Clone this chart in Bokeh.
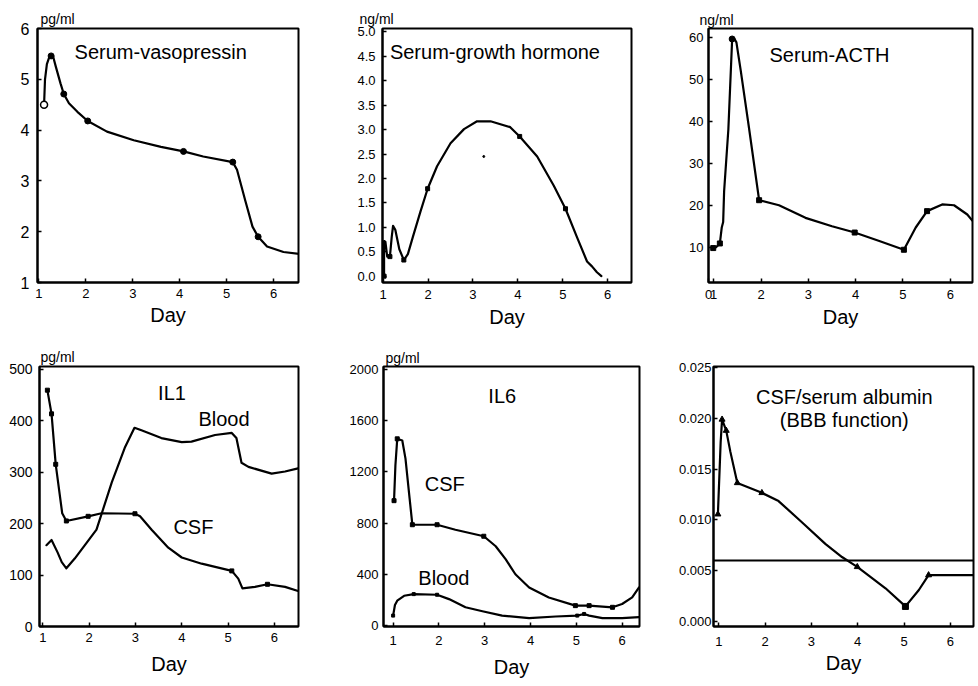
from bokeh.plotting import figure
from bokeh.layouts import column, row
from bokeh.models import Range1d, FixedTicker, Label, Span, PrintfTickFormatter, Title
from bokeh.embed import file_html
from bokeh.resources import INLINE

FONT = "Liberation Sans"

# ---------------- data ----------------
days_ticks = [1, 2, 3, 4, 5, 6]

# Serum vasopressin (pg/ml)
vaso_day = [1.11, 1.13, 1.17, 1.23, 1.30, 1.36, 1.46, 1.53, 1.64, 1.82, 2.04, 2.45, 3.02, 3.60,
            4.08, 4.50, 5.13, 5.22, 5.40, 5.55, 5.67, 5.86, 6.21, 6.57]
vaso_val = [4.50, 5.00, 5.30, 5.46, 5.46, 5.25, 4.92, 4.71, 4.53, 4.36, 4.18, 3.97, 3.80, 3.67,
            3.58, 3.48, 3.37, 3.22, 2.60, 2.10, 1.90, 1.71, 1.60, 1.56]
vaso_open_day = [1.11]
vaso_open_val = [4.50]
vaso_pt_day = [1.26, 1.53, 2.04, 4.08, 5.13, 5.67]
vaso_pt_val = [5.46, 4.71, 4.18, 3.58, 3.37, 1.90]

# Serum growth hormone (ng/ml)
gh_day = [1.02, 1.02, 1.05, 1.09, 1.15, 1.19, 1.22, 1.27, 1.36, 1.46, 1.55, 1.66, 1.83, 1.99,
          2.20, 2.50, 2.80, 3.09, 3.39, 3.83, 4.04, 4.43, 4.80, 5.06, 5.32, 5.54, 5.65, 5.76, 5.86]
gh_val = [0.00, 0.72, 0.70, 0.40, 0.40, 0.80, 1.03, 0.95, 0.55, 0.33, 0.45, 0.80, 1.32, 1.79,
          2.25, 2.72, 3.01, 3.17, 3.17, 3.05, 2.86, 2.45, 1.85, 1.38, 0.79, 0.30, 0.20, 0.08, 0.00]
gh_pt_day = [1.02, 1.15, 1.46, 1.99, 4.04, 5.06]
gh_pt_val = [0.00, 0.40, 0.33, 1.79, 2.86, 1.38]
gh_speck_day = [3.24]
gh_speck_val = [2.45]

# Serum ACTH (ng/ml)
acth_day = [0.99, 1.05, 1.13, 1.17, 1.20, 1.22, 1.31, 1.39, 1.44, 1.48, 1.57, 1.75, 1.96, 2.38,
            2.94, 3.50, 3.98, 4.50, 5.02, 5.27, 5.51, 5.83, 6.08, 6.36, 6.47]
acth_val = [9.8, 10.0, 10.9, 14.7, 16.0, 23.3, 38.1, 59.6, 59.6, 58.8, 52.2, 38.1, 21.2, 20.0,
            17.0, 15.0, 13.5, 11.5, 9.4, 14.7, 18.6, 20.2, 20.0, 17.8, 16.3]
acth_pt_day = [0.99, 1.13, 1.96, 3.98, 5.02, 5.51]
acth_pt_val = [9.8, 10.9, 21.2, 13.5, 9.4, 18.6]
acth_peak_day = [1.39]
acth_peak_val = [59.6]

# IL1 (pg/ml)
il1_csf_day = [1.10, 1.19, 1.28, 1.42, 1.51, 1.98, 2.27, 2.99, 3.10, 3.35, 3.71, 4.00, 4.43,
               5.08, 5.22, 5.31, 5.58, 5.85, 6.23, 6.51]
il1_csf_val = [459, 413, 315, 220, 205, 214, 220, 219, 214, 188, 153, 134, 122,
               108, 93, 74, 77, 82, 77, 69]
il1_csf_pt_day = [1.10, 1.19, 1.28, 1.51, 1.98, 2.99, 5.08, 5.85]
il1_csf_pt_val = [459, 413, 315, 205, 214, 219, 108, 82]
il1_blood_day = [1.08, 1.19, 1.32, 1.41, 1.51, 1.69, 1.95, 2.16, 2.49, 2.77, 2.98, 3.13, 3.56,
                 4.00, 4.21, 4.72, 5.08, 5.18, 5.29, 5.44, 5.94, 6.23, 6.51]
il1_blood_val = [158, 168, 144, 125, 113, 132, 163, 188, 280, 347, 386, 381, 366,
                 358, 359, 372, 376, 366, 318, 310, 297, 301, 307]

# IL6 (pg/ml)
il6_csf_day = [1.02, 1.05, 1.09, 1.20, 1.27, 1.36, 1.42, 1.96, 2.36, 2.98, 3.24, 3.46, 3.67,
               3.97, 4.40, 4.98, 5.28, 5.79, 6.00, 6.22, 6.37]
il6_csf_val = [975, 1250, 1458, 1445, 1303, 993, 787, 787, 748, 697, 619, 516, 400,
               297, 219, 155, 155, 142, 168, 219, 297]
il6_csf_pt_day = [1.02, 1.09, 1.42, 1.96, 2.98, 4.98, 5.28, 5.79]
il6_csf_pt_val = [975, 1458, 787, 787, 697, 155, 155, 142]
il6_blood_day = [1.00, 1.04, 1.09, 1.24, 1.45, 1.96, 2.22, 2.58, 2.95, 3.38, 3.97, 4.55, 5.02,
                 5.17, 5.28, 5.57, 6.00, 6.37]
il6_blood_val = [77, 160, 194, 232, 245, 240, 206, 142, 111, 77, 57, 70, 77,
                 90, 77, 57, 57, 65]
il6_blood_pt_day = [1.00, 1.45, 1.96, 5.02, 5.17]
il6_blood_pt_val = [77, 245, 240, 77, 90]

# CSF/serum albumin ratio (BBB function)
bbb_day = [0.98, 1.04, 1.07, 1.16, 1.25, 1.40, 1.93, 2.29, 2.80, 3.30, 3.66, 3.88, 3.99,
           4.60, 5.03, 5.32, 5.53, 6.50]
bbb_val = [0.01055, 0.0177, 0.0199, 0.0188, 0.0167, 0.01364, 0.01266, 0.01185, 0.00974,
           0.00763, 0.00633, 0.00568, 0.00536, 0.00325, 0.00146, 0.00308, 0.00455, 0.00455]
bbb_tri_day = [0.98, 1.07, 1.16, 1.40, 1.93, 3.99, 5.53]
bbb_tri_val = [0.01055, 0.0199, 0.0188, 0.01364, 0.01266, 0.00536, 0.00455]
bbb_sq_day = [5.03]
bbb_sq_val = [0.00146]
bbb_upper_normal = 0.0060


# ---------------- helpers ----------------
def panel(width, height, borders, xr, yr, yticks, ytick_size, xstand, ystand,
          day_stand, xticks=days_ticks, yfmt=None, xover=None):
    l, r, t, b = borders
    p = figure(width=width, height=height, x_range=Range1d(*xr), y_range=Range1d(*yr),
               output_backend="svg", toolbar_location=None,
               min_border_left=l, min_border_right=r, min_border_top=t, min_border_bottom=b)
    p.grid.visible = False
    p.background_fill_color = "white"
    p.border_fill_color = "white"
    p.outline_line_color = "black"
    p.outline_line_width = 2
    p.outline_line_alpha = 1

    for ax in (p.xaxis[0], p.yaxis[0]):
        ax.axis_line_width = 2
        ax.axis_line_color = "black"
        ax.major_tick_line_width = 1.5
        ax.major_tick_line_color = "black"
        ax.major_tick_in = 4
        ax.major_tick_out = 0
        ax.minor_tick_line_color = None
        ax.major_label_text_font = FONT
        ax.major_label_text_color = "black"

    xa = p.xaxis[0]
    xa.ticker = FixedTicker(ticks=xticks)
    xa.major_label_text_font_size = "13px"
    xa.major_label_standoff = xstand
    xa.axis_label = "Day"
    xa.axis_label_text_font = FONT
    xa.axis_label_text_font_size = "20px"
    xa.axis_label_text_font_style = "normal"
    xa.axis_label_text_color = "black"
    xa.axis_label_standoff = day_stand
    if xover:
        xa.major_label_overrides = xover

    ya = p.yaxis[0]
    ya.ticker = FixedTicker(ticks=yticks)
    ya.major_label_text_font_size = ytick_size
    ya.major_label_standoff = ystand
    if yfmt:
        ya.formatter = PrintfTickFormatter(format=yfmt)
    return p


def text(p, x, y, s, size="20px", align="left"):
    p.add_layout(Label(x=x, y=y, text=s, text_font=FONT, text_font_size=size,
                       text_baseline="middle", text_align=align, text_color="black"))


def unit(p, s, dx, stand):
    # concentration unit written above the top-left corner of the frame
    p.add_layout(Title(text=s, align="left", offset=dx, standoff=stand,
                       text_font=FONT, text_font_size="14px", text_font_style="normal",
                       text_color="black"), "above")


def curve(p, x, y):
    p.line(x, y, line_color="black", line_width=2.2, line_join="round", line_cap="round")


# ---------------- top row ----------------
p1 = panel(340, 340, (37, 42, 28, 58), (0.97, 6.53), (1, 6), [1, 2, 3, 4, 5, 6], "16px",
           6, 8, 3)
curve(p1, vaso_day, vaso_val)
p1.scatter(vaso_pt_day, vaso_pt_val, size=6, color="black")
p1.scatter(vaso_open_day, vaso_open_val, size=7, fill_color="white", line_color="black",
           line_width=1.5)
text(p1, 1.76, 5.53, "Serum-vasopressin")
unit(p1, "pg/ml", 3, 3)

gh_y = [0.0, 0.5, 1.0, 1.5, 2.0, 2.5, 3.0, 3.5, 4.0, 4.5, 5.0]
p2 = panel(330, 340, (42, 39, 23, 55), (0.985, 6.53), (-0.13, 5.07), gh_y, "13px",
           7, 7, 4, yfmt="%.1f")
curve(p2, gh_day, gh_val)
p2.scatter(gh_pt_day, gh_pt_val, marker="square", size=4, color="black")
p2.scatter(gh_speck_day, gh_speck_val, size=2, color="black")
text(p2, 1.15, 4.58, "Serum-growth hormone")
unit(p2, "ng/ml", -23, 3)

acth_x0 = 0.89
p3 = panel(308, 340, (38, 6, 24, 57), (acth_x0, 6.47), (1.6, 62.1), [10, 20, 30, 40, 50, 60],
           "13px", 7, 5, 4, xticks=[acth_x0] + days_ticks, xover={acth_x0: "0"})
curve(p3, acth_day, acth_val)
p3.scatter(acth_pt_day, acth_pt_val, marker="square", size=5, color="black")
p3.scatter(acth_peak_day, acth_peak_val, size=6, color="black")
text(p3, 2.18, 55.7, "Serum-ACTH")
unit(p3, "ng/ml", -9, 2)

# ---------------- bottom row ----------------
p4 = panel(340, 346, (39, 42, 26, 54), (0.93, 6.52), (0, 505), [0, 100, 200, 300, 400, 500],
           "14px", 6, 7, 8)
curve(p4, il1_csf_day, il1_csf_val)
curve(p4, il1_blood_day, il1_blood_val)
p4.scatter(il1_csf_pt_day, il1_csf_pt_val, marker="square", size=4, color="black")
text(p4, 3.49, 454, "IL1")
text(p4, 4.36, 404, "Blood")
text(p4, 3.82, 193, "CSF")
unit(p4, "pg/ml", 1, 3)

p5 = panel(330, 346, (43, 31, 23, 60), (0.79, 6.38), (-8, 2023), [0, 400, 800, 1200, 1600, 2000],
           "13px", 9, 5, 8)
curve(p5, il6_csf_day, il6_csf_val)
curve(p5, il6_blood_day, il6_blood_val)
p5.scatter(il6_csf_pt_day, il6_csf_pt_val, marker="square", size=4, color="black")
p5.scatter(il6_blood_pt_day, il6_blood_pt_val, marker="square", size=3, color="black")
text(p5, 3.08, 1793, "IL6")
text(p5, 1.69, 1109, "CSF")
text(p5, 1.55, 369, "Blood")
unit(p5, "pg/ml", 2, 2)

p6 = panel(308, 346, (43, 5, 24, 59), (0.885, 6.5), (-0.00052, 0.02512),
           [0.0, 0.005, 0.010, 0.015, 0.020, 0.025], "13px", 10, 2, 3, yfmt="%.3f")
p6.add_layout(Span(location=bbb_upper_normal, dimension="width", line_color="black",
                   line_width=2))
curve(p6, bbb_day, bbb_val)
p6.scatter(bbb_tri_day, bbb_tri_val, marker="triangle", size=6, color="black")
p6.scatter(bbb_sq_day, bbb_sq_val, marker="square", size=6, color="black")
text(p6, 3.71, 0.02208, "CSF/serum albumin", align="center")
text(p6, 3.71, 0.01987, "(BBB function)", align="center")

layout = column(row(p1, p2, p3, spacing=0), row(p4, p5, p6, spacing=0), spacing=0)

open("out.html", "w").write(file_html(layout, INLINE, title="Time course"))
